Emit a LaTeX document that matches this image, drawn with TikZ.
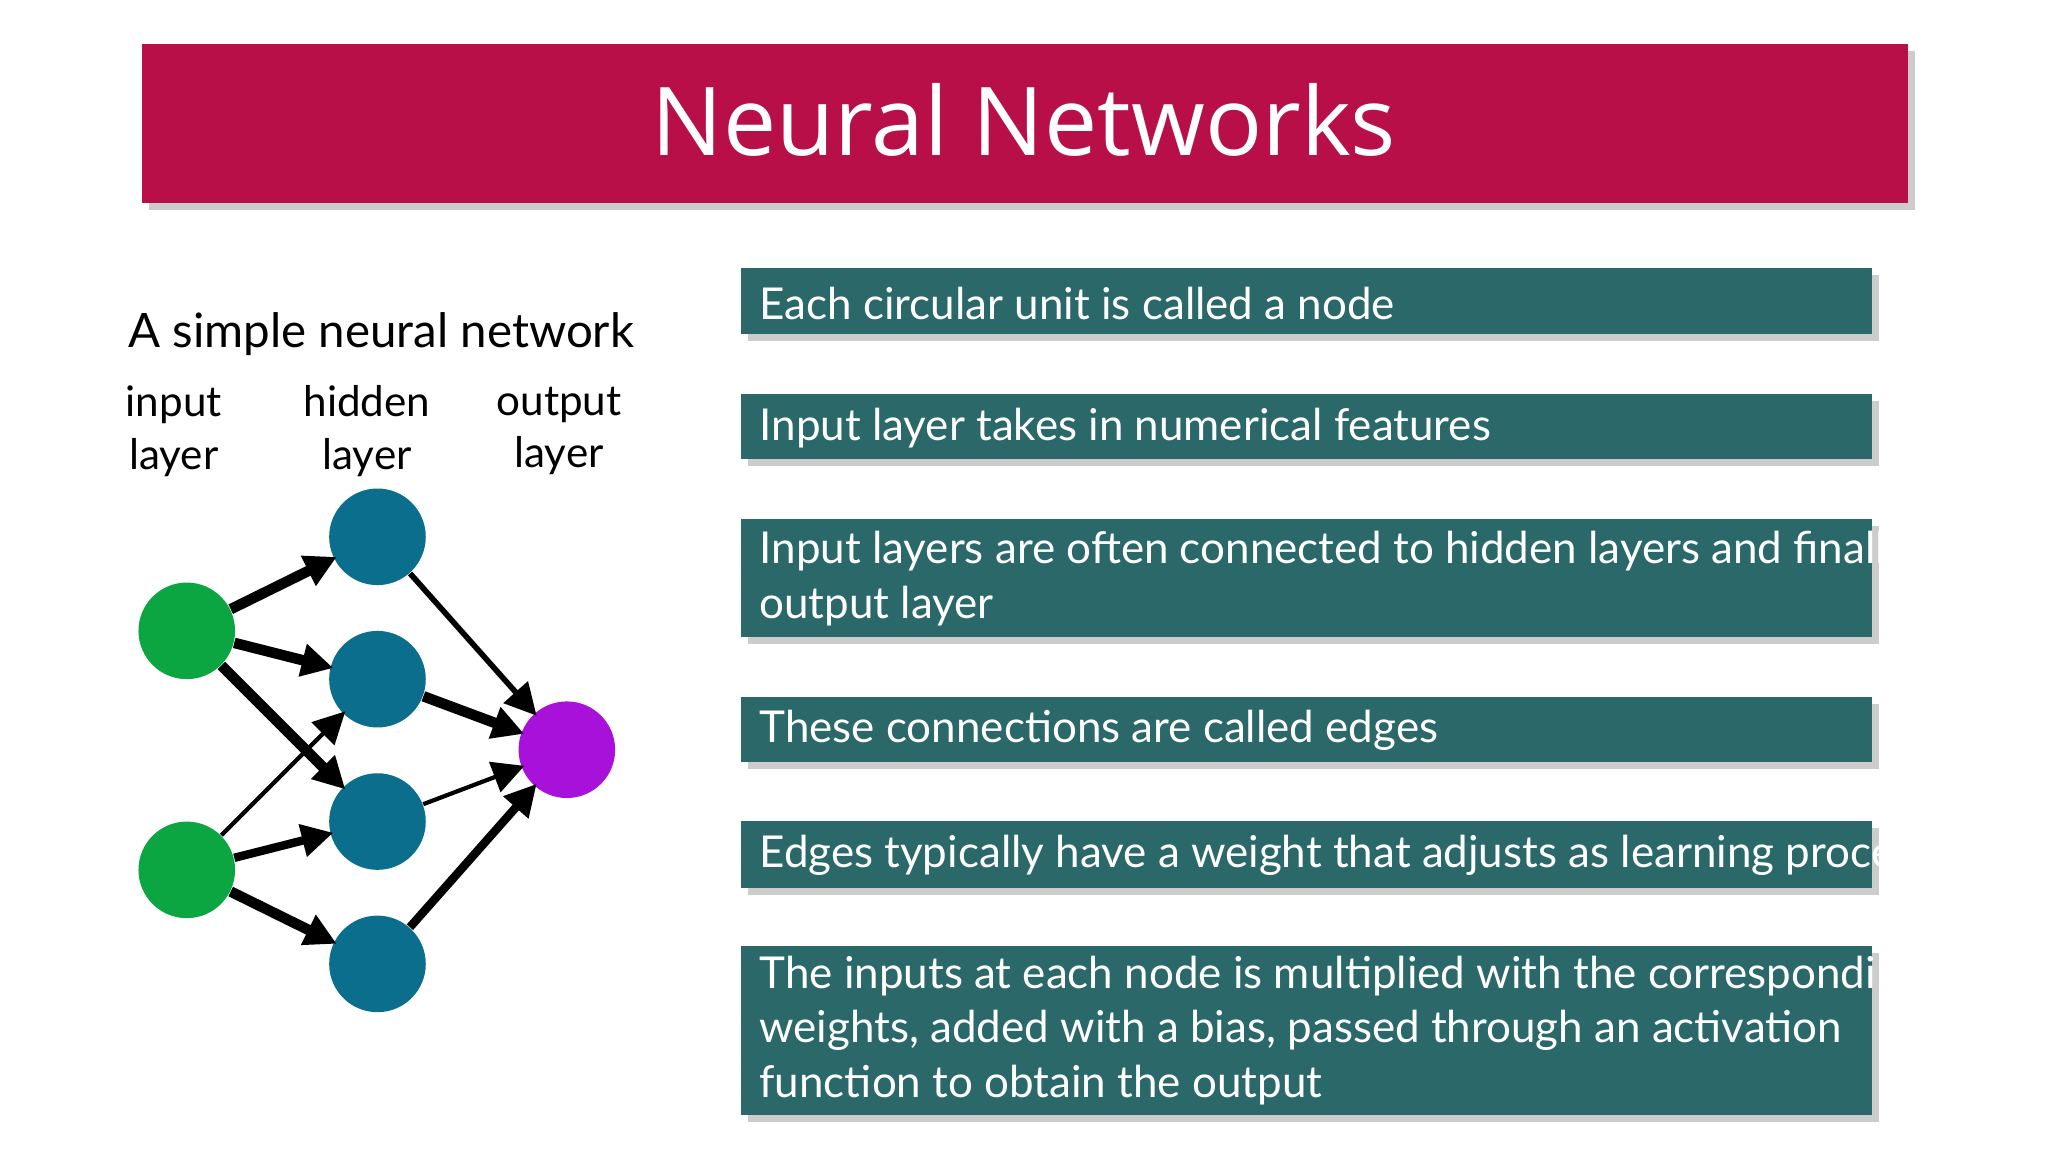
\documentclass[tikz,border=0pt]{standalone}
\usepackage{fontspec}
\setmainfont{Lato}
\newfontfamily\titlefont{Open Sans}
\usetikzlibrary{shadows,arrows.meta}
\definecolor{crim}{HTML}{B80F48}
\definecolor{tealbox}{HTML}{2B6869}
\definecolor{ingreen}{HTML}{0BA541}
\definecolor{hidblue}{HTML}{0A6E8C}
\definecolor{outpur}{HTML}{A711D9}
\begin{document}
\begin{tikzpicture}[x=0.013061cm,y=-0.013061cm,
  box/.style={fill=tealbox,draw=none,drop shadow={shadow xshift=2pt,shadow yshift=-2pt,opacity=0.4}},
  boxtext/.style={anchor=west,text=white,font=\fontsize{12.5}{15.5}\selectfont,align=left},
  neuron/.style={circle,minimum size=0.966cm,inner sep=0pt,draw=none},
  lbl/.style={font=\fontsize{12}{15}\selectfont,align=center,text=black},
  ed/.style={-{Triangle[length=9pt,width=9pt]},shorten >=-1pt}]
\useasboundingbox (0,0) rectangle (1568,882);
\fill[white] (0,0) rectangle (1568,882);
\node[box,fill=crim,minimum width=1352*0.013061cm,minimum height=122*0.013061cm,anchor=north west,inner sep=0pt] (title) at (108,33) {};
\node[text=white,font=\titlefont\fontsize{27}{32}\selectfont] (tt) at (784,92) {Neural Networks};
% boxes
\node[box,anchor=north west,minimum width=866*0.013061cm,minimum height=50*0.013061cm,inner sep=0pt] (b1) at (567,205) {};
\node[boxtext] (t1) at (572,232) {Each circular unit is called a node};
\node[box,anchor=north west,minimum width=866*0.013061cm,minimum height=50*0.013061cm,inner sep=0pt] (b2) at (567,301) {};
\node[boxtext] (t2) at (572,328) {Input layer takes in numerical features};
\node[box,anchor=north west,minimum width=866*0.013061cm,minimum height=90*0.013061cm,inner sep=0pt] (b3) at (567,397) {};
\node[boxtext] (t3) at (572,443) {Input layers are often connected to hidden layers and finally to\\output layer};
\node[box,anchor=north west,minimum width=866*0.013061cm,minimum height=50*0.013061cm,inner sep=0pt] (b4) at (567,533) {};
\node[boxtext] (t4) at (572,559) {These connections are called edges};
\node[box,anchor=north west,minimum width=866*0.013061cm,minimum height=51*0.013061cm,inner sep=0pt] (b5) at (567,628) {};
\node[boxtext] (t5) at (572,655) {Edges typically have a weight that adjusts as learning proceeds};
\node[box,anchor=north west,minimum width=866*0.013061cm,minimum height=129*0.013061cm,inner sep=0pt] (b6) at (567,724) {};
\node[boxtext] (t6) at (572,789) {The inputs at each node is multiplied with the corresponding\\weights, added with a bias, passed through an activation\\function to obtain the output};
% left
\node[lbl,font=\fontsize{13.5}{16}\selectfont] (cap) at (292,256) {A simple neural network};
\node[lbl] (l1) at (133,330) {input\\layer};
\node[lbl] (l2) at (281,330) {hidden\\layer};
\node[lbl] (l3) at (428,330) {output\\layer};
\node[neuron,fill=ingreen] (i1) at (143,483) {};
\node[neuron,fill=ingreen] (i2) at (143,666) {};
\node[neuron,fill=hidblue] (h1) at (289,411) {};
\node[neuron,fill=hidblue] (h2) at (289,520) {};
\node[neuron,fill=hidblue] (h3) at (289,629) {};
\node[neuron,fill=hidblue] (h4) at (289,738) {};
\node[neuron,fill=outpur] (o) at (434,574) {};
\draw[ed,line width=3pt] (i1) -- (h1);
\draw[ed,line width=3pt] (i1) -- (h2);
\draw[ed,line width=3pt] (i1) -- (h3);
\draw[ed,line width=1.2pt] (i2) -- (h2);
\draw[ed,line width=2.4pt] (i2) -- (h3);
\draw[ed,line width=3pt] (i2) -- (h4);
\draw[ed,line width=1.6pt] (h1) -- (o);
\draw[ed,line width=3pt] (h2) -- (o);
\draw[ed,line width=1.2pt] (h3) -- (o);
\draw[ed,line width=2.4pt] (h4) -- (o);
\end{tikzpicture}
\end{document}
